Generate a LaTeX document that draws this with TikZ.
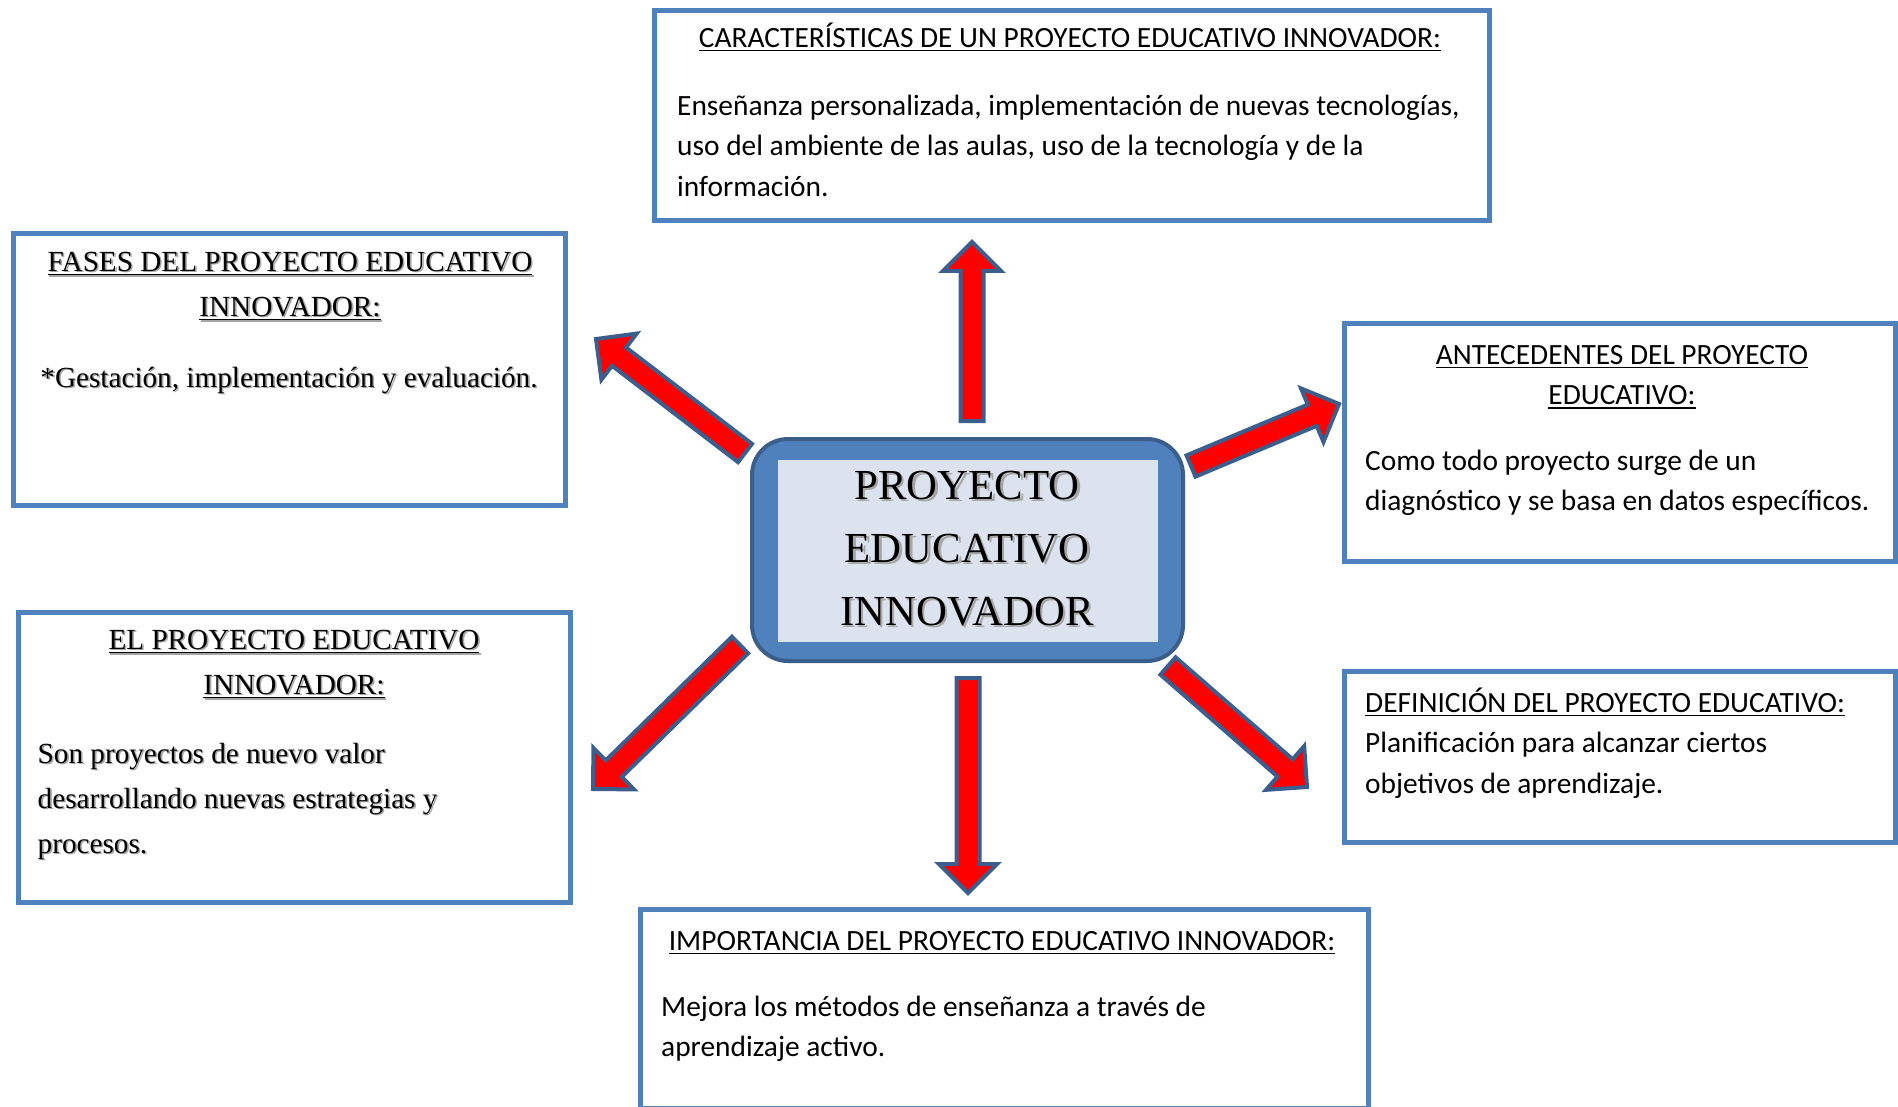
\documentclass[tikz,border=0pt]{standalone}
\usepackage{fontspec}
\setmainfont{Liberation Serif}
\newfontfamily\calib{Carlito}
\usetikzlibrary{calc}
\definecolor{boxblue}{HTML}{4F81BD}
\definecolor{darkblue}{HTML}{3B5E8C}
\definecolor{innerfill}{HTML}{DCE3EF}
\definecolor{shgray}{HTML}{A6A6A6}
\newcommand\myul[1]{\sbox0{#1}\rlap{\rule[-0.14em]{\wd0}{0.06em}}\usebox0}
\newcommand\shd[2][1.6pt]{\leavevmode\rlap{\hspace{#1}\raisebox{-#1}{\color{shgray}#2}}#2}
\newcommand\blockarrow[3]{% #1 tail, #2 tip, #3 name
  \path ($(#2)!29pt!(#1)$) coordinate (#3n);
  \filldraw[barrow] ($(#1)!11.5pt!90:(#2)$) -- ($(#3n)!11.5pt!-90:(#1)$) -- ($(#3n)!29pt!-90:(#1)$) -- (#2)
    -- ($(#3n)!29pt!90:(#1)$) -- ($(#3n)!11.5pt!90:(#1)$) -- ($(#1)!11.5pt!-90:(#2)$) -- cycle;
}
\tikzset{
  box/.style={draw=boxblue, line width=5pt, fill=white, inner sep=0pt},
  sanstxt/.style={inner sep=0pt, font=\calib\fontsize{29.4}{40.6}\selectfont},
  seriftxt/.style={inner sep=0pt, font=\fontsize{29.2}{45}\selectfont},
  barrow/.style={fill=red, draw=darkblue, line width=4pt, line join=miter},
}
\begin{document}
\begin{tikzpicture}[x=1pt,y=-1pt]
\useasboundingbox (0,0) rectangle (1898,1107);

% boxes
\node[box, minimum width=835pt, minimum height=210pt] (car) at (1072,115.5) {};
\node[box, minimum width=552pt, minimum height=272pt] (fas) at (289.5,369.5) {};
\node[box, minimum width=552pt, minimum height=290pt] (pei) at (294.5,757.5) {};
\node[box, minimum width=551pt, minimum height=238pt] (ant) at (1620,442.5) {};
\node[box, minimum width=551pt, minimum height=171pt] (def) at (1620,757) {};
\node[box, minimum width=728pt, minimum height=199pt] (imp) at (1004.5,1009) {};

% center
\node[draw=darkblue, fill=boxblue, line width=4pt, rounded corners=36pt,
      minimum width=431pt, minimum height=222pt, inner sep=0pt] (cen) at (967.5,550) {};
\node[fill=innerfill, minimum width=380pt, minimum height=182pt, inner sep=0pt] (cin) at (968,551) {};
\node[inner sep=0pt, align=center, anchor=north, font=\fontsize{42.8}{63}\selectfont] (cent) at (967,455)
  {\strut\shd[2.5pt]{PROYECTO}\\\shd[2.5pt]{EDUCATIVO}\\\shd[2.5pt]{INNOVADOR}};

% texts
\node[sanstxt, anchor=north] (carT) at (1070,18.6) {\strut\myul{CARACTERÍSTICAS DE UN PROYECTO EDUCATIVO INNOVADOR:}};
\node[sanstxt, anchor=north west, align=left] (carB) at (677,86.6)
  {\strut Enseñanza personalizada, implementación de nuevas tecnologías,\\uso del ambiente de las aulas, uso de la tecnología y de la\\información.};

\node[seriftxt, anchor=north, align=center] (fasT) at (290,239.5)
  {\strut\shd{\myul{FASES DEL PROYECTO EDUCATIVO}}\\\shd{\myul{INNOVADOR:}}};
\node[seriftxt, anchor=north] (fasB) at (289,355.5) {\strut\shd{*Gestación, implementación y evaluación.}};

\node[seriftxt, anchor=north, align=center] (peiT) at (294,617.5)
  {\strut\shd{\myul{EL PROYECTO EDUCATIVO}}\\\shd{\myul{INNOVADOR:}}};
\node[seriftxt, anchor=north west, align=left] (peiB) at (37.5,731.5)
  {\strut\shd{Son proyectos de nuevo valor}\\\shd{desarrollando nuevas estrategias y}\\\shd{procesos.}};

\node[sanstxt, anchor=north, align=center] (antT) at (1622,335.6)
  {\strut\myul{ANTECEDENTES DEL PROYECTO}\\\myul{EDUCATIVO:}};
\node[sanstxt, anchor=north west, align=left] (antB) at (1365,441.6)
  {\strut Como todo proyecto surge de un\\diagnóstico y se basa en datos específicos.};

\node[sanstxt, anchor=north west, align=left] (defT) at (1365,683.6)
  {\strut\myul{DEFINICIÓN DEL PROYECTO EDUCATIVO:}\\Planificación para alcanzar ciertos\\objetivos de aprendizaje.};

\node[sanstxt, anchor=north] (impT) at (1002,921.6) {\strut\myul{IMPORTANCIA DEL PROYECTO EDUCATIVO INNOVADOR:}};
\node[sanstxt, anchor=north west, align=left] (impB) at (661,987.6)
  {\strut Mejora los métodos de enseñanza a través de\\aprendizaje activo.};

% arrows
\coordinate (upT) at (972,421);  \coordinate (upH) at (972,242);
\coordinate (dnT) at (968,678);  \coordinate (dnH) at (968,893);
\coordinate (ulT) at (745,453);  \coordinate (ulH) at (596,339);
\coordinate (urT) at (1191,466); \coordinate (urH) at (1339,404);
\coordinate (llT) at (740,645);  \coordinate (llH) at (593,789);
\coordinate (lrT) at (1168,666); \coordinate (lrH) at (1307,787);
\blockarrow{upT}{upH}{up}
\blockarrow{dnT}{dnH}{dn}
\blockarrow{ulT}{ulH}{ul}
\blockarrow{urT}{urH}{ur}
\blockarrow{llT}{llH}{ll}
\blockarrow{lrT}{lrH}{lr}
\end{tikzpicture}
\end{document}
